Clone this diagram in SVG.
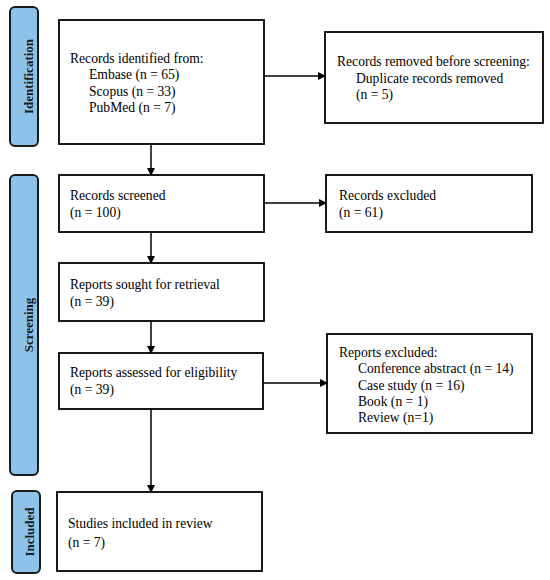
<svg xmlns="http://www.w3.org/2000/svg" width="550" height="580" viewBox="0 0 550 580">
<style>
.box{fill:#fff;stroke:#000;stroke-width:1.8}
.bar{fill:#8DC2EA;stroke:#1a1a1a;stroke-width:2}
.t{font-family:"Liberation Serif","DejaVu Serif",serif;font-size:13.6px;fill:#000}
.v{font-family:"Liberation Serif","DejaVu Serif",serif;font-size:13px;font-weight:bold;fill:#1a1a1a;text-anchor:middle}
.c{stroke:#000;stroke-width:1.5;fill:none}
</style>
<defs>
<marker id="ah" markerWidth="8" markerHeight="8" refX="7" refY="4" orient="auto" markerUnits="userSpaceOnUse">
<path d="M0,0 L8,4 L0,8 Z" fill="#000"/>
</marker>
</defs>
<rect width="550" height="580" fill="#fff"/>
<g id="phase-identification">
<rect class="bar" x="10" y="7" width="28" height="139" rx="5"/>
<text class="v" transform="translate(32.5,76.5) rotate(-90)">Identification</text>
</g>
<g id="phase-screening">
<rect class="bar" x="10" y="175" width="28" height="300" rx="5"/>
<text class="v" transform="translate(32.5,325) rotate(-90)">Screening</text>
</g>
<g id="phase-included">
<rect class="bar" x="12" y="491" width="28" height="82" rx="5"/>
<text class="v" transform="translate(34,532) rotate(-90)">Included</text>
</g>
<g id="connectors">
<line class="c" x1="151" y1="144" x2="151" y2="175" marker-end="url(#ah)"/>
<line class="c" x1="264" y1="76" x2="325" y2="76" marker-end="url(#ah)"/>
<line class="c" x1="151" y1="232" x2="151" y2="263" marker-end="url(#ah)"/>
<line class="c" x1="264" y1="203" x2="326" y2="203" marker-end="url(#ah)"/>
<line class="c" x1="151" y1="321" x2="151" y2="353" marker-end="url(#ah)"/>
<line class="c" x1="263" y1="383" x2="327" y2="383" marker-end="url(#ah)"/>
<line class="c" x1="151" y1="409" x2="151" y2="492" marker-end="url(#ah)"/>
</g>
<g id="records-identified">
<rect class="box" x="59" y="20" width="205" height="124"/>
<text class="t" x="70" y="63">Records identified from:</text>
<text class="t" x="89" y="79">Embase (n = 65)</text>
<text class="t" x="89" y="96">Scopus (n = 33)</text>
<text class="t" x="89" y="112">PubMed (n = 7)</text>
</g>
<g id="records-removed">
<rect class="box" x="325" y="32" width="218" height="91"/>
<text class="t" x="337" y="66">Records removed before screening:</text>
<text class="t" x="356" y="83">Duplicate records removed</text>
<text class="t" x="356" y="99">(n = 5)</text>
</g>
<g id="records-screened">
<rect class="box" x="59" y="175" width="205" height="57"/>
<text class="t" x="70" y="200">Records screened</text>
<text class="t" x="70" y="217">(n = 100)</text>
</g>
<g id="records-excluded">
<rect class="box" x="326" y="175" width="206" height="57"/>
<text class="t" x="339" y="200">Records excluded</text>
<text class="t" x="339" y="217">(n = 61)</text>
</g>
<g id="reports-sought">
<rect class="box" x="59" y="263" width="205" height="58"/>
<text class="t" x="70" y="289">Reports sought for retrieval</text>
<text class="t" x="70" y="306">(n = 39)</text>
</g>
<g id="reports-assessed">
<rect class="box" x="59" y="353" width="204" height="56"/>
<text class="t" x="70" y="377">Reports assessed for eligibility</text>
<text class="t" x="70" y="394">(n = 39)</text>
</g>
<g id="reports-excluded">
<rect class="box" x="327" y="334" width="205" height="99"/>
<text class="t" x="339" y="357">Reports excluded:</text>
<text class="t" x="358" y="373">Conference abstract (n = 14)</text>
<text class="t" x="358" y="390">Case study (n = 16)</text>
<text class="t" x="358" y="406">Book (n = 1)</text>
<text class="t" x="358" y="422">Review (n=1)</text>
</g>
<g id="studies-included">
<rect class="box" x="57" y="492" width="205" height="79"/>
<text class="t" x="68" y="528">Studies included in review</text>
<text class="t" x="68" y="547">(n = 7)</text>
</g>
</svg>
